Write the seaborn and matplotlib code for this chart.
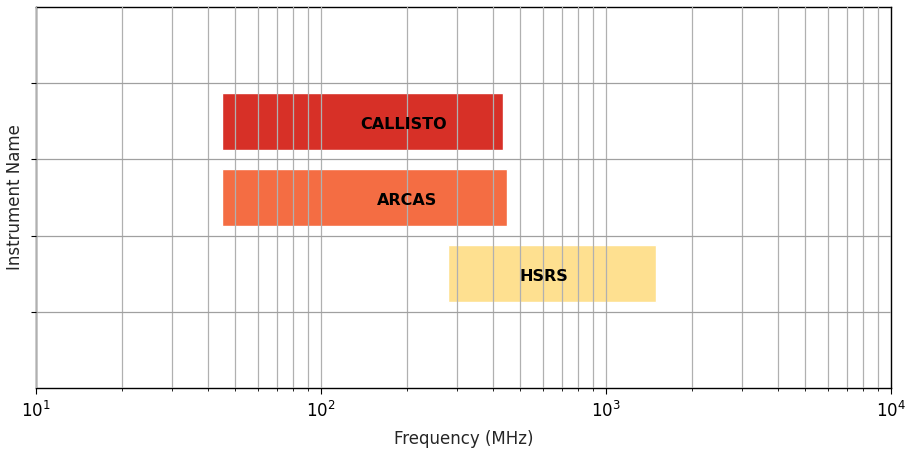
import numpy as np
import matplotlib
matplotlib.use("Agg")
import matplotlib.pyplot as plt
import seaborn as sns

# instrument frequency coverage (MHz)
instruments = ["CALLISTO", "ARCAS", "HSRS"]
freq_start = [45, 45, 280]
freq_end = [435, 450, 1500]
label_x = [195, 200, 606]
bar_rows = [3.5, 2.5, 1.5]
bar_colors = ["#d73027", "#f46d43", "#fee090"]
y_ticks = [1, 2, 3, 4]

sns.set_style("ticks")
plt.rcParams["font.family"] = ["DejaVu Sans"]

fig = plt.figure(figsize=(9.05, 4.49), dpi=100)
ax = fig.add_axes([0.0398, 0.1359, 0.9447, 0.8485])

widths = np.array(freq_end) - np.array(freq_start)
ax.barh(bar_rows, widths, left=freq_start, height=0.75, color=bar_colors, zorder=1)

for name, x, y in zip(instruments, label_x, bar_rows):
    ax.text(x, y - 0.04, name, ha="center", va="center", fontsize=11.5,
            fontweight="bold", color="black", zorder=3)

ax.set_xscale("log")
ax.set_xlim(10, 1e4)
ax.set_ylim(0, 5)
ax.set_yticks(y_ticks)
ax.set_yticklabels([])

ax.set_axisbelow(False)
ax.grid(True, which="both", axis="x", color="#b0b0b0", linewidth=0.9)
ax.grid(True, which="major", axis="y", color="#a0a0a0", linewidth=0.9)

for s in ax.spines.values():
    s.set_color("black")
    s.set_linewidth(1.0)

ax.tick_params(axis="x", which="major", length=4.5, width=0.8, colors="black",
               labelsize=12, pad=5)
ax.tick_params(axis="y", which="major", length=3.5, width=0.8, colors="black", pad=1)
ax.tick_params(axis="x", which="minor", length=2.5, width=0.6, colors="black")

ax.set_xlabel("Frequency (MHz)", fontsize=12, labelpad=6)
ax.set_ylabel("Instrument Name", fontsize=12, labelpad=4)

fig.savefig("out.png", dpi=100)
